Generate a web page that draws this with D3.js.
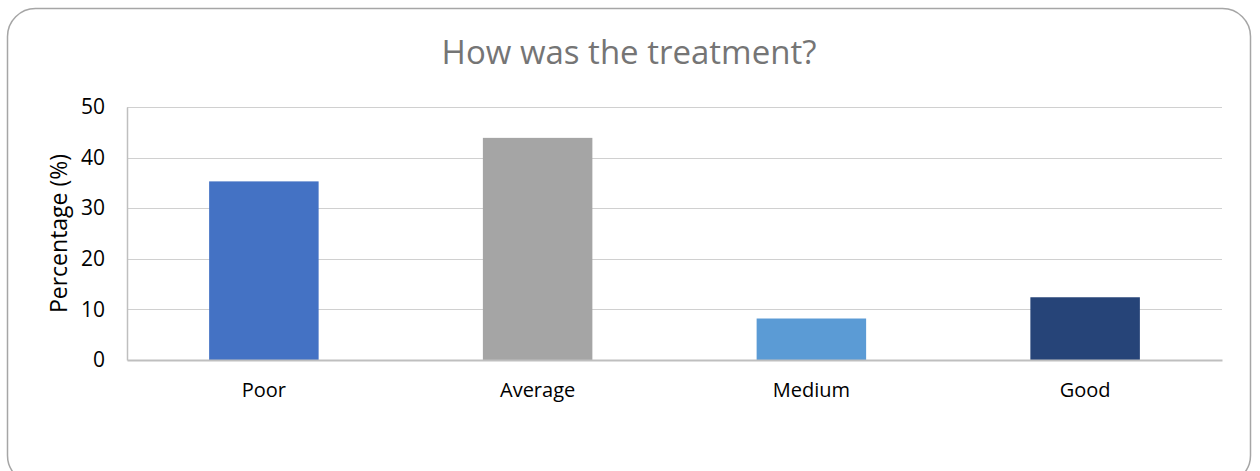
<!DOCTYPE html>
<html>
<head>
<meta charset="utf-8">
<script src="https://cdn.jsdelivr.net/npm/d3@7"></script>
<style>
  body { margin: 0; background: #fff; }
  svg { display: block; font-family: "Open Sans", sans-serif; }
</style>
</head>
<body>
<div id="chart"></div>
<script>
const categories = ["Poor", "Average", "Medium", "Good"];
const values = [35.3, 43.9, 8.2, 12.4];
const barColors = ["#4472c4", "#a5a5a5", "#5b9bd5", "#264478"];
const yTicks = [0, 10, 20, 30, 40, 50];

const W = 1260, H = 471;
const margin = { top: 107, right: 38, bottom: 111, left: 127 };
const width = W - margin.left - margin.right;
const height = H - margin.top - margin.bottom;

const svg = d3.select("#chart").append("svg")
  .attr("width", W)
  .attr("height", H);

// outer frame
svg.append("rect")
  .attr("x", 7.5).attr("y", 8.5)
  .attr("width", 1243).attr("height", 475)
  .attr("rx", 28).attr("ry", 28)
  .attr("fill", "none")
  .attr("stroke", "#a6a6a6")
  .attr("stroke-width", 1.5);

svg.append("text")
  .attr("x", 629)
  .attr("y", 64)
  .attr("text-anchor", "middle")
  .style("font-size", "33px")
  .style("fill", "#757575")
  .text("How was the treatment?");

const g = svg.append("g")
  .attr("transform", `translate(${margin.left},${margin.top})`);

const x = d3.scaleBand().domain(categories).range([0, width]);
const y = d3.scaleLinear().domain([0, 50]).range([height, 0]);

// gridlines
g.append("g")
  .selectAll("line")
  .data(yTicks.filter(d => d > 0))
  .enter().append("line")
  .attr("x1", 0).attr("x2", width)
  .attr("y1", d => Math.round(y(d)) + 0.5)
  .attr("y2", d => Math.round(y(d)) + 0.5)
  .attr("stroke", "#d0d0d0")
  .attr("stroke-width", 1.2);

// y axis
const yAxis = g.append("g")
  .call(d3.axisLeft(y).tickValues(yTicks).tickSize(0).tickPadding(22));
yAxis.select(".domain").attr("stroke", "#bfbfbf").attr("stroke-width", 1.5);
yAxis.selectAll("text").style("font-size", "21px").style("fill", "#000")
  .style("font-family", "\"Open Sans\", sans-serif");

// bars
const barW = x.bandwidth() * 0.4;
g.selectAll("rect.bar")
  .data(categories)
  .enter().append("rect")
  .attr("class", "bar")
  .attr("x", (d) => x(d) + (x.bandwidth() - barW) / 2)
  .attr("y", (d, i) => y(values[i]))
  .attr("width", barW)
  .attr("height", (d, i) => height - y(values[i]))
  .attr("fill", (d, i) => barColors[i]);

// x axis
const xAxis = g.append("g")
  .attr("transform", `translate(0,${height})`)
  .call(d3.axisBottom(x).tickSize(0).tickPadding(23));
xAxis.select(".domain").attr("stroke", "#bfbfbf").attr("stroke-width", 1.8);
xAxis.selectAll("text").style("font-size", "20px").style("fill", "#000")
  .style("font-family", "\"Open Sans\", sans-serif");

svg.append("text")
  .attr("transform", `translate(67,${margin.top + height / 2}) rotate(-90)`)
  .attr("text-anchor", "middle")
  .style("font-size", "23px")
  .style("fill", "#000")
  .text("Percentage (%)");
</script>
</body>
</html>
